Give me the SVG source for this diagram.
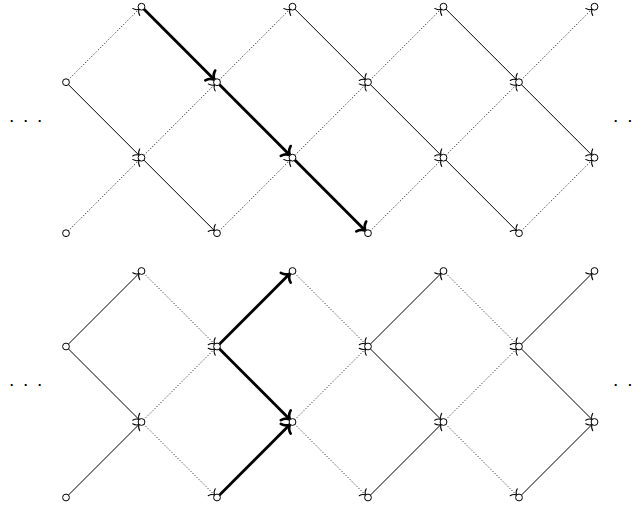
<svg xmlns="http://www.w3.org/2000/svg" width="641" height="510" viewBox="0 0 641 510">
<style>
.e{fill:none;stroke:#000;stroke-width:1}
.d{fill:none;stroke:#000;stroke-width:1;stroke-dasharray:1 2}
.b{fill:none;stroke:#000;stroke-width:2.8}
.e,.d{marker-end:url(#at)}
.b{marker-end:url(#ab)}
.n{fill:#fff;stroke:#000;stroke-width:1}
.dots{font-family:"Liberation Sans",Arial,sans-serif;font-size:19px;fill:#000;text-anchor:middle}
</style>
<defs>
<marker id="at" markerUnits="userSpaceOnUse" orient="auto" refX="0" refY="0" markerWidth="12" markerHeight="12" overflow="visible">
<path d="M -4.2,-5 C -3.4,-1.9 -1.5,-0.5 0,0 C -1.5,0.5 -3.4,1.9 -4.2,5" fill="none" stroke="#000" stroke-width="1" stroke-linecap="round"/>
</marker>
<marker id="ab" markerUnits="userSpaceOnUse" orient="auto" refX="0" refY="0" markerWidth="16" markerHeight="16" overflow="visible">
<path d="M -6.3,-7 C -5.1,-2.7 -2.3,-0.7 0,0 C -2.3,0.7 -5.1,2.7 -6.3,7" fill="none" stroke="#000" stroke-width="2.6" stroke-linecap="round"/>
</marker>
</defs>
<g id="connectors">
<line class="b" x1="143.8" y1="9" x2="214.7" y2="79.9"/>
<line class="b" x1="219.3" y1="84.5" x2="290.2" y2="155.4"/>
<line class="b" x1="294.8" y1="160" x2="365.7" y2="230.9"/>
<line class="e" x1="68.3" y1="84.5" x2="139.2" y2="155.4"/>
<line class="e" x1="143.8" y1="160" x2="214.7" y2="230.9"/>
<line class="e" x1="294.8" y1="9" x2="365.7" y2="79.9"/>
<line class="e" x1="370.3" y1="84.5" x2="441.2" y2="155.4"/>
<line class="e" x1="445.8" y1="160" x2="516.7" y2="230.9"/>
<line class="e" x1="445.8" y1="9" x2="516.7" y2="79.9"/>
<line class="e" x1="521.3" y1="84.5" x2="592.2" y2="155.4"/>
<line class="d" x1="68.3" y1="79.9" x2="139.2" y2="9"/>
<line class="d" x1="68.3" y1="230.9" x2="139.2" y2="160"/>
<line class="d" x1="143.8" y1="155.4" x2="214.7" y2="84.5"/>
<line class="d" x1="219.3" y1="79.9" x2="290.2" y2="9"/>
<line class="d" x1="219.3" y1="230.9" x2="290.2" y2="160"/>
<line class="d" x1="294.8" y1="155.4" x2="365.7" y2="84.5"/>
<line class="d" x1="370.3" y1="79.9" x2="441.2" y2="9"/>
<line class="d" x1="370.3" y1="230.9" x2="441.2" y2="160"/>
<line class="d" x1="445.8" y1="155.4" x2="516.7" y2="84.5"/>
<line class="d" x1="521.3" y1="79.9" x2="592.2" y2="9"/>
<line class="d" x1="521.3" y1="230.9" x2="592.2" y2="160"/>
<line class="e" x1="68.3" y1="344.2" x2="139.2" y2="273.3"/>
<line class="e" x1="68.3" y1="348.8" x2="139.2" y2="419.7"/>
<line class="e" x1="68.3" y1="495.2" x2="139.2" y2="424.3"/>
<line class="d" x1="143.8" y1="273.3" x2="214.7" y2="344.2"/>
<line class="d" x1="143.8" y1="419.7" x2="214.7" y2="348.8"/>
<line class="d" x1="143.8" y1="424.3" x2="214.7" y2="495.2"/>
<line class="b" x1="219.3" y1="344.2" x2="290.2" y2="273.3"/>
<line class="b" x1="219.3" y1="348.8" x2="290.2" y2="419.7"/>
<line class="b" x1="219.3" y1="495.2" x2="290.2" y2="424.3"/>
<line class="d" x1="294.8" y1="273.3" x2="365.7" y2="344.2"/>
<line class="d" x1="294.8" y1="419.7" x2="365.7" y2="348.8"/>
<line class="d" x1="294.8" y1="424.3" x2="365.7" y2="495.2"/>
<line class="e" x1="370.3" y1="344.2" x2="441.2" y2="273.3"/>
<line class="e" x1="370.3" y1="348.8" x2="441.2" y2="419.7"/>
<line class="e" x1="370.3" y1="495.2" x2="441.2" y2="424.3"/>
<line class="d" x1="445.8" y1="273.3" x2="516.7" y2="344.2"/>
<line class="d" x1="445.8" y1="419.7" x2="516.7" y2="348.8"/>
<line class="d" x1="445.8" y1="424.3" x2="516.7" y2="495.2"/>
<line class="e" x1="521.3" y1="344.2" x2="592.2" y2="273.3"/>
<line class="e" x1="521.3" y1="348.8" x2="592.2" y2="419.7"/>
<line class="e" x1="521.3" y1="495.2" x2="592.2" y2="424.3"/>
</g>
<g id="top-nodes">
<circle id="t10" class="n" cx="141.5" cy="6.7" r="3.4"/>
<circle id="t30" class="n" cx="292.5" cy="6.7" r="3.4"/>
<circle id="t50" class="n" cx="443.5" cy="6.7" r="3.4"/>
<circle id="t70" class="n" cx="594.5" cy="6.7" r="3.4"/>
<circle id="t01" class="n" cx="66" cy="82.2" r="3.4"/>
<circle id="t21" class="n" cx="217" cy="82.2" r="3.4"/>
<circle id="t41" class="n" cx="368" cy="82.2" r="3.4"/>
<circle id="t61" class="n" cx="519" cy="82.2" r="3.4"/>
<circle id="t12" class="n" cx="141.5" cy="157.7" r="3.4"/>
<circle id="t32" class="n" cx="292.5" cy="157.7" r="3.4"/>
<circle id="t52" class="n" cx="443.5" cy="157.7" r="3.4"/>
<circle id="t72" class="n" cx="594.5" cy="157.7" r="3.4"/>
<circle id="t03" class="n" cx="66" cy="233.2" r="3.4"/>
<circle id="t23" class="n" cx="217" cy="233.2" r="3.4"/>
<circle id="t43" class="n" cx="368" cy="233.2" r="3.4"/>
<circle id="t63" class="n" cx="519" cy="233.2" r="3.4"/>
</g>
<g id="bottom-nodes">
<circle id="b10" class="n" cx="141.5" cy="271" r="3.4"/>
<circle id="b30" class="n" cx="292.5" cy="271" r="3.4"/>
<circle id="b50" class="n" cx="443.5" cy="271" r="3.4"/>
<circle id="b70" class="n" cx="594.5" cy="271" r="3.4"/>
<circle id="b01" class="n" cx="66" cy="346.5" r="3.4"/>
<circle id="b21" class="n" cx="217" cy="346.5" r="3.4"/>
<circle id="b41" class="n" cx="368" cy="346.5" r="3.4"/>
<circle id="b61" class="n" cx="519" cy="346.5" r="3.4"/>
<circle id="b12" class="n" cx="141.5" cy="422" r="3.4"/>
<circle id="b32" class="n" cx="292.5" cy="422" r="3.4"/>
<circle id="b52" class="n" cx="443.5" cy="422" r="3.4"/>
<circle id="b72" class="n" cx="594.5" cy="422" r="3.4"/>
<circle id="b03" class="n" cx="66" cy="497.5" r="3.4"/>
<circle id="b23" class="n" cx="217" cy="497.5" r="3.4"/>
<circle id="b43" class="n" cx="368" cy="497.5" r="3.4"/>
<circle id="b63" class="n" cx="519" cy="497.5" r="3.4"/>
</g>
<g id="ellipses">
<text class="dots" x="11.7 25.7 39.7" y="125.5">···</text>
<text class="dots" x="615.7 630" y="125.5">··</text>
<text class="dots" x="11.7 25.7 39.7" y="389.5">···</text>
<text class="dots" x="615.7 630" y="389.5">··</text>
</g>
</svg>
